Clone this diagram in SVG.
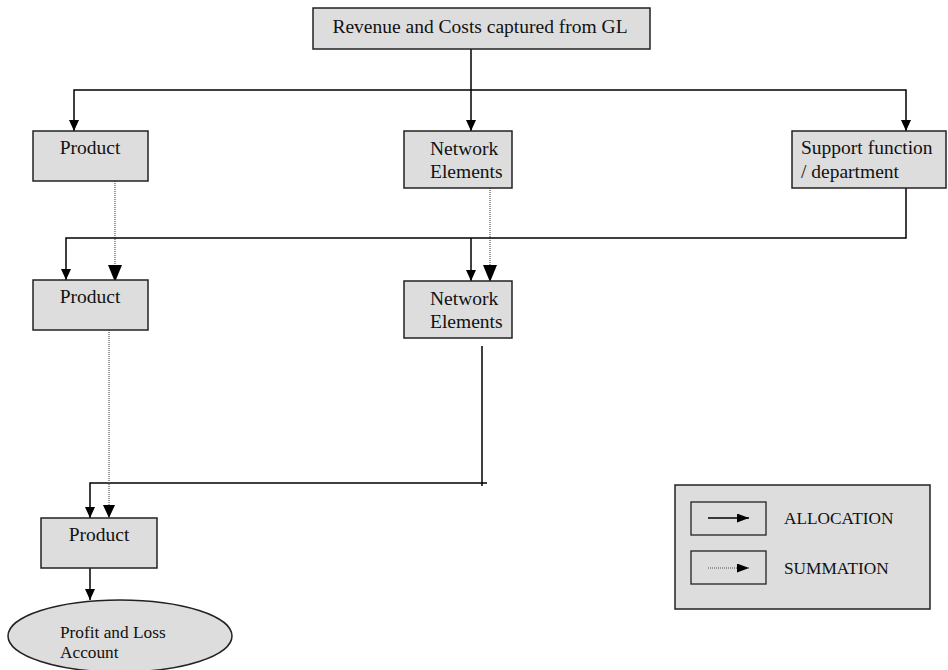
<svg xmlns="http://www.w3.org/2000/svg" width="948" height="670" viewBox="0 0 948 670">
<defs>
<marker id="arr" markerUnits="userSpaceOnUse" markerWidth="11" markerHeight="10" refX="11" refY="5" orient="auto" viewBox="0 0 11 10"><path d="M0,0 L11,5 L0,10 z" fill="#000"/></marker>
<marker id="arrBig" markerUnits="userSpaceOnUse" markerWidth="17" markerHeight="14" refX="17" refY="7" orient="auto" viewBox="0 0 17 14"><path d="M0,0 L17,7 L0,14 z" fill="#000"/></marker>
<marker id="arrMid" markerUnits="userSpaceOnUse" markerWidth="13" markerHeight="12" refX="13" refY="6" orient="auto" viewBox="0 0 13 12"><path d="M0,0 L13,6 L0,12 z" fill="#000"/></marker>
<marker id="arrLeg" markerUnits="userSpaceOnUse" markerWidth="12" markerHeight="9" refX="12" refY="4.5" orient="auto" viewBox="0 0 12 9"><path d="M0,0 L12,4.5 L0,9 z" fill="#000"/></marker>
</defs>
<style>
.box{fill:#dddddd;stroke:#222;stroke-width:1.5}
.t{font-family:"Liberation Serif","Times New Roman",serif;font-size:19.5px;fill:#111}
.ts{font-family:"Liberation Serif","Times New Roman",serif;font-size:17.3px;fill:#111}
.c{text-anchor:middle}
.alloc{fill:none;stroke:#000;stroke-width:1.5}
.sum{fill:none;stroke:#555;stroke-width:1.2;stroke-dasharray:1,1}
.lbox{fill:none;stroke:#222;stroke-width:1.3}
</style>
<g id="connectors">
<path class="alloc" d="M471,49 V131" marker-end="url(#arr)"/>
<path class="alloc" d="M471,90 H74 V131" marker-end="url(#arr)"/>
<path class="alloc" d="M471,90 H906 V131" marker-end="url(#arr)"/>
<path class="sum" d="M115,181 V282" marker-end="url(#arrBig)"/>
<path class="sum" d="M490,184 V282" marker-end="url(#arrBig)"/>
<path class="alloc" d="M906,188 V238 H66 V280" marker-end="url(#arr)"/>
<path class="alloc" d="M471,238 V281" marker-end="url(#arr)"/>
<path class="alloc" d="M482,346 V486"/>
<path class="alloc" d="M487,483 H90 V518" marker-end="url(#arr)"/>
<path class="sum" d="M109,310 V518" marker-end="url(#arrMid)"/>
<path class="alloc" d="M90,568 V600" marker-end="url(#arr)"/>
</g>
<g id="gl">
<rect class="box" x="313" y="8" width="337" height="41"/>
<text class="t c" x="480" y="33">Revenue and Costs captured from GL</text>
</g>
<g id="product1">
<rect class="box" x="33" y="131" width="115" height="50"/>
<text class="t c" x="90" y="154">Product</text>
</g>
<g id="network1">
<rect class="box" x="404" y="131" width="108" height="57"/>
<text class="t" x="430" y="155">Network</text>
<text class="t" x="430" y="178">Elements</text>
</g>
<g id="support">
<rect class="box" x="792" y="131" width="154" height="57"/>
<text class="t" x="801" y="154">Support function</text>
<text class="t" x="801" y="178">/ department</text>
</g>
<g id="product2">
<rect class="box" x="33" y="280" width="115" height="50"/>
<text class="t c" x="90" y="303">Product</text>
</g>
<g id="network2">
<rect class="box" x="404" y="281" width="108" height="57"/>
<text class="t" x="430" y="305">Network</text>
<text class="t" x="430" y="328">Elements</text>
</g>
<g id="product3">
<rect class="box" x="41" y="518" width="116" height="50"/>
<text class="t c" x="99" y="541">Product</text>
</g>
<g id="pl">
<ellipse class="box" cx="120" cy="636" rx="112" ry="36"/>
<text class="ts" x="60" y="638">Profit and Loss</text>
<text class="ts" x="60" y="658">Account</text>
</g>
<g id="legend">
<rect class="box" x="675" y="485" width="255" height="124"/>
<rect class="lbox" x="691" y="502" width="75" height="33"/>
<rect class="lbox" x="691" y="551" width="75" height="33"/>
<path class="alloc" d="M708,518 H749" marker-end="url(#arrLeg)"/>
<path class="sum" d="M708,568 H749" marker-end="url(#arrLeg)"/>
<text class="ts" x="784" y="524">ALLOCATION</text>
<text class="ts" x="784" y="574">SUMMATION</text>
</g>
</svg>
